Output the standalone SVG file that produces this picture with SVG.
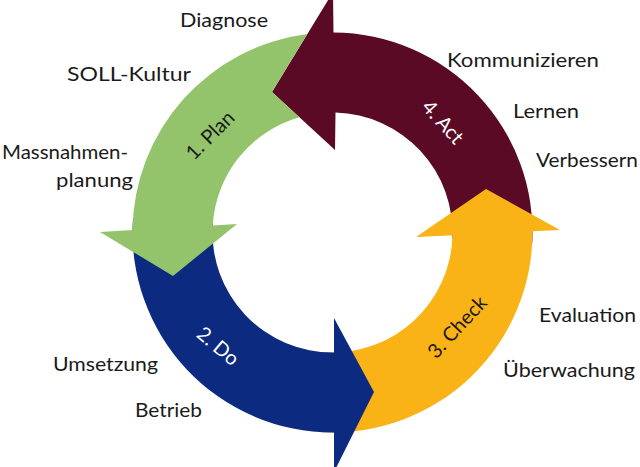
<svg xmlns="http://www.w3.org/2000/svg" width="640" height="467" viewBox="0 0 640 467">
<style>
.lbl{font-family:Lato,"Open Sans","Liberation Sans",sans-serif;font-size:20px;fill:#1a1a1a}
.arc{font-family:Lato,"Open Sans","Liberation Sans",sans-serif;font-size:20px;text-anchor:middle}
.act{fill:#5A0A25}.chk{fill:#FAB317}.do{fill:#0C2A7F}.plan{fill:#93C36A}
</style>
<rect width="640" height="467" fill="#ffffff"/>
<g id="cycle">
<g id="act">
<path class="act" d="M532.23,242.97 A200,200 0 0 0 333.5,32.5 L333,-8 L272,92 L335,150 L335.5,112.55 A120,120 0 0 1 452.34,238.78 Z"/>
<text class="arc" fill="#ffffff" transform="translate(443,122) rotate(48)" x="0" y="7">4. Act</text>
</g>
<g id="check">
<path class="chk" d="M322.03,432.23 A200,200 0 0 0 532.5,231.3 L560,230 L486,189 L416,237 L452.47,235.2 A120,120 0 0 1 326.22,352.34 Z"/>
<text class="arc" fill="#1a1a1a" transform="translate(457,327) rotate(-47)" x="0" y="7">3. Check</text>
</g>
<g id="do">
<path class="do" d="M133,218.55 A200,200 0 0 0 334,432.49 L334,472 L374,392 L334,318 L334,352.49 A120,120 0 0 1 212.8,224.13 Z"/>
<text class="arc" fill="#ffffff" transform="translate(218,346) rotate(40)" x="0" y="7">2. Do</text>
</g>
<g id="plan">
<path class="plan" d="M307.3,34.1 L272,92 L299.3,117.2 A120,120 0 0 0 212.7,225.5 L237,224 L173,276 L100,232 L132.5,230 A200,200 0 0 1 307.3,34.1 Z"/>
<text class="arc" fill="#1a1a1a" transform="translate(210,135) rotate(-45)" x="0" y="7">1. Plan</text>
</g>
</g>
<g id="labels">
<text class="lbl" x="180" y="27" textLength="88" lengthAdjust="spacingAndGlyphs">Diagnose</text>
<text class="lbl" x="67" y="81" textLength="124" lengthAdjust="spacingAndGlyphs">SOLL-Kultur</text>
<text class="lbl" x="2" y="159" textLength="126" lengthAdjust="spacingAndGlyphs">Massnahmen-</text>
<text class="lbl" x="56" y="187" textLength="77" lengthAdjust="spacingAndGlyphs">planung</text>
<text class="lbl" x="447" y="67" textLength="152" lengthAdjust="spacingAndGlyphs">Kommunizieren</text>
<text class="lbl" x="513" y="118" textLength="66" lengthAdjust="spacingAndGlyphs">Lernen</text>
<text class="lbl" x="536" y="167" textLength="102" lengthAdjust="spacingAndGlyphs">Verbessern</text>
<text class="lbl" x="539" y="322" textLength="97" lengthAdjust="spacingAndGlyphs">Evaluation</text>
<text class="lbl" x="503" y="377" textLength="132" lengthAdjust="spacingAndGlyphs">Überwachung</text>
<text class="lbl" x="53" y="371" textLength="105" lengthAdjust="spacingAndGlyphs">Umsetzung</text>
<text class="lbl" x="135" y="417" textLength="67" lengthAdjust="spacingAndGlyphs">Betrieb</text>
</g>
</svg>
